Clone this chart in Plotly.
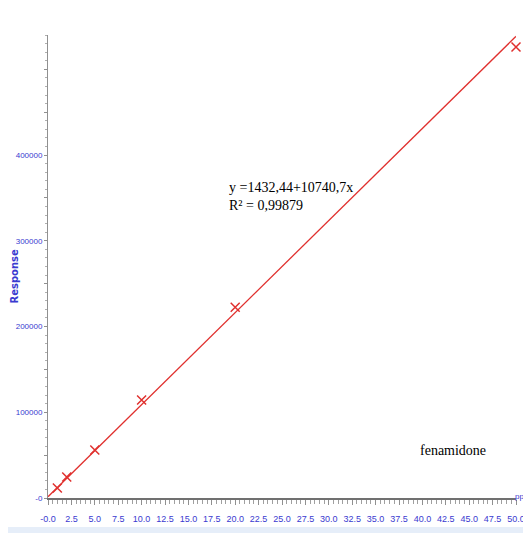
import plotly.graph_objects as go

# Data
conc = [1, 2, 5, 10, 20, 50]
response = [11700, 24500, 56000, 114300, 222500, 526000]
intercept = 1432.44
slope = 10740.7
fit_x = [0, 50]
fit_y = [intercept + slope * v for v in fit_x]

x_tickvals = [i * 2.5 for i in range(21)]
x_ticktext = ["-0.0"] + [f"{v:.1f}" for v in x_tickvals[1:]]
y_tickvals = [i * 50000 for i in range(11)]
y_labelled = [0, 100000, 200000, 300000, 400000]
y_ticktext = ["-0" if v == 0 else (str(v) if v in y_labelled else "") for v in y_tickvals]

blue = "#3a3ad0"
red = "#e0302e"
xtickfont = dict(family="Liberation Sans, Arial", size=9, color=blue)
ytickfont = dict(family="Liberation Sans, Arial", size=8, color=blue)

# page has an 8px body margin; compensate so the plot sits at page pixels
OFF = 8
W, H = 531 - OFF, 533 - OFF
L, T = 48 - OFF, 35 - OFF
R = 531 - 516          # plot right edge at page x=516
B = 533 - 498          # plot bottom at page y=498
pw = W - L - R
ph = H - T - B


def px_x(x):  # page pixel -> paper
    return (x - OFF - L) / pw


def px_y(y):
    return (H - B - (y - OFF)) / ph


fig = go.Figure()
fig.add_trace(go.Scatter(x=fit_x, y=fit_y, mode="lines",
                         line=dict(color=red, width=1.3), hoverinfo="skip",
                         showlegend=False, cliponaxis=False))
fig.add_trace(go.Scatter(x=conc, y=response, mode="markers",
                         marker=dict(symbol="x-thin", size=9,
                                     line=dict(color=red, width=1.5), color=red),
                         showlegend=False, cliponaxis=False))

serif = dict(family="Liberation Serif, Times New Roman", size=14, color="black")

fig.update_layout(
    width=W, height=H,
    margin=dict(l=L, r=R, t=T, b=B, autoexpand=False),
    paper_bgcolor="white", plot_bgcolor="white",
    xaxis=dict(range=[0, 50], tickvals=x_tickvals, ticktext=x_ticktext,
               tickangle=0, automargin=False,
               showgrid=False, zeroline=False, showline=True,
               linecolor="#707070", linewidth=2,
               ticks="outside", ticklen=5, tickcolor="#909090",
               minor=dict(dtick=0.5, ticks="outside", ticklen=4, tickcolor="#a0a0a0"),
               tickfont=xtickfont, ticklabelstandoff=6),
    yaxis=dict(range=[0, 540000], tickvals=y_tickvals, ticktext=y_ticktext,
               automargin=False,
               showgrid=False, zeroline=False, showline=True,
               linecolor="#909090", linewidth=1,
               ticks="outside", ticklen=3, tickcolor="#909090",
               minor=dict(dtick=10000, ticks="outside", ticklen=2, tickcolor="#b0b0b0"),
               tickfont=ytickfont, ticklabelstandoff=0),
    shapes=[dict(type="rect", xref="paper", yref="paper", x0=px_x(0), x1=px_x(531),
                 y0=px_y(527), y1=px_y(533), fillcolor="#e6eef9", line=dict(width=0),
                 layer="below")],
    annotations=[
        dict(text="<b>Response</b>", x=px_x(6), y=px_y(276), textangle=-90,
             xref="paper", yref="paper", showarrow=False,
             font=dict(family="DejaVu Sans, Arial", size=10, color=blue)),
        dict(text="y =1432,44+10740,7x", x=px_x(227), y=px_y(178), xref="paper", yref="paper",
             showarrow=False, xanchor="left", font=serif),
        dict(text="R² = 0,99879", x=px_x(227), y=px_y(206), xref="paper", yref="paper",
             showarrow=False, xanchor="left", font=serif),
        dict(text="fenamidone", x=px_x(418), y=px_y(460), xref="paper", yref="paper",
             showarrow=False, xanchor="left", font=serif),
        dict(text="ppb", x=px_x(531), y=px_y(503), xref="paper", yref="paper",
             showarrow=False, xanchor="right",
             font=dict(family="Liberation Sans, Arial", size=8, color=blue)),
    ],
)

fig.write_html("out.html")
